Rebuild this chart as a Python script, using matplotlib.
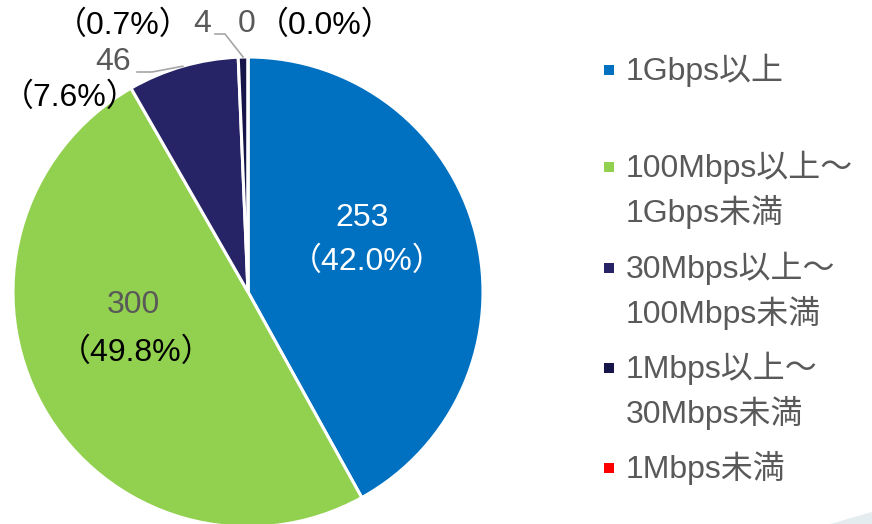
import numpy as np
import matplotlib.pyplot as plt
from matplotlib.patches import Rectangle, Polygon

plt.rcParams['font.family'] = ['Liberation Sans', 'Noto Sans CJK JP']

# Data
categories = ["1Gbps以上", "100Mbps以上～\n1Gbps未満", "30Mbps以上～\n100Mbps未満",
              "1Mbps以上～\n30Mbps未満", "1Mbps未満"]
counts = [253, 300, 46, 4, 0]
colors = ["#0070C0", "#92D050", "#262466", "#15154A", "#FF0000"]

total = sum(counts)
shares = [c / total * 100 for c in counts]

W, H = 872, 524
fig = plt.figure(figsize=(W / 100, H / 100), dpi=100)

# pie axes: centre (248, 292) px, radius 235 px
cx, cy, r = 248, 292, 235
ax = fig.add_axes([(cx - r) / W, (H - cy - r) / H, 2 * r / W, 2 * r / H])

wedges, _ = ax.pie(counts, colors=colors, startangle=90, counterclock=False,
                   radius=1, wedgeprops=dict(edgecolor="white", linewidth=2.2))
ax.set_xlim(-1, 1)
ax.set_ylim(-1, 1)
ax.set_aspect("equal")
ax.axis("off")
for w in wedges:
    w.set_clip_on(False)

fs = 23
gray = "#595959"
lead = "#A6A6A6"


def pct(i):
    return f"（{shares[i]:.1f}%）"


def px(x, y):
    # pixel position -> pie data coordinates
    return (x - cx) / r, (cy - y) / r


# inside labels
kw = dict(fontsize=fs, ha="center", va="center", clip_on=False)
ax.text(*px(362, 218), str(counts[0]), color="white", **kw)
ax.text(*px(367, 262), pct(0), color="white", **kw)
ax.text(*px(133, 305), str(counts[1]), color=gray, **kw)
ax.text(*px(136, 353), pct(1), color="black", **kw)


def mid_point(i):
    th = np.deg2rad((wedges[i].theta1 + wedges[i].theta2) / 2)
    return np.cos(th), np.sin(th)


# outside labels with leader lines
ax.text(*px(113, 62), str(counts[2]), color=gray, **kw)
ax.text(*px(70, 98), pct(2), color="black", **kw)
mx, my = mid_point(2)
x0, y0 = px(137, 72)
x1, _ = px(152, 72)
ax.plot([x0, x1, mx], [y0, y0, my], color=lead, lw=1.2, clip_on=False)

ax.text(*px(202, 24), str(counts[3]), color=gray, **kw)
ax.text(*px(192, 26), pct(3), color="black",
        fontsize=fs, ha="right", va="center", clip_on=False)
mx, my = mid_point(3)
x0, y0 = px(215, 34)
x1, _ = px(225, 34)
ax.plot([x0, x1, mx], [y0, y0, my], color=lead, lw=1.2, clip_on=False)

ax.text(*px(247, 24), str(counts[4]), color=gray, **kw)
ax.text(*px(257, 26), pct(4), color="black",
        fontsize=fs, ha="left", va="center", clip_on=False)

# legend
leg_y = [70, 167, 268, 368, 468]
line_gap = 45
for lab, col, y in zip(categories, colors, leg_y):
    fig.patches.append(Rectangle((604 / W, (H - y - 5) / H), 10 / W, 10 / H,
                                 transform=fig.transFigure, facecolor=col,
                                 edgecolor="none"))
    for k, line in enumerate(lab.split("\n")):
        fig.text(626 / W, (H - y - k * line_gap) / H, line, color=gray,
                 fontsize=fs, ha="left", va="center")

# faint decoration in the bottom-right corner
fig.patches.append(Polygon([(830 / W, 0), (1, 12 / H), (1, 0)], closed=True,
                           transform=fig.transFigure, facecolor="#E4ECEF",
                           edgecolor="none"))

fig.savefig("out.png", dpi=100)
